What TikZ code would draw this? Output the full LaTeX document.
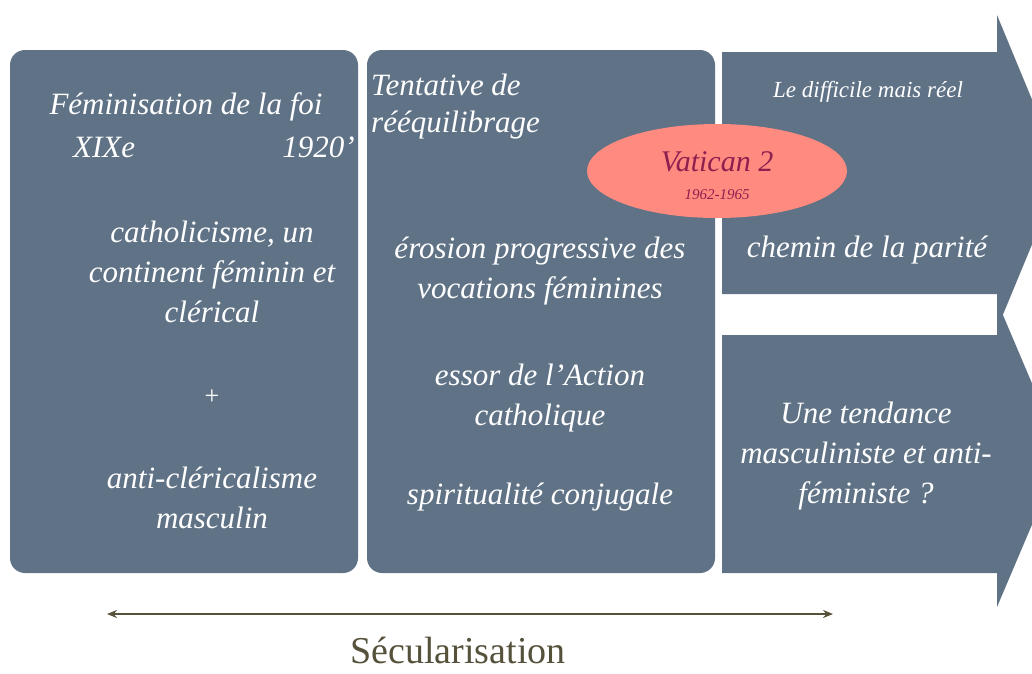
\documentclass[tikz,border=0pt]{standalone}
\usepackage{fontspec}
\setmainfont{Liberation Serif}
\usetikzlibrary{positioning,shapes.geometric,arrows.meta}
\definecolor{slate}{HTML}{607286}
\definecolor{salmon}{HTML}{FF8A80}
\definecolor{wine}{HTML}{8E1F4F}
\definecolor{olive}{HTML}{55513A}

\begin{document}
\begin{tikzpicture}[x=1pt,y=-1pt,
    panel/.style={fill=slate,rounded corners=15pt,minimum width=348pt,minimum height=523pt,inner sep=0pt},
    txt/.style={text=white,font=\fontsize{31}{40}\selectfont\itshape,align=center,inner sep=0pt},
    smalltxt/.style={text=white,font=\fontsize{23}{26}\selectfont\itshape,inner sep=0pt}]
    \useasboundingbox (0,0) rectangle (1032,673);
    \clip (0,0) rectangle (1032,673);
    \node[panel] (left) at (184,311.5) {};
    \node[panel] (mid) at (541,311.5) {};
    % the two arrows on the right
    \fill[slate] (722,52) -- (997,52) -- (997,15) -- (1062,172) -- (997,329) -- (997,294) -- (722,294) -- cycle;
    \fill[slate] (722,335) -- (997,335) -- (997,301) -- (1062,454) -- (997,607) -- (997,573) -- (722,573) -- cycle;
    \node[txt] (fem) at (186,107) {Féminisation de la foi};
    \node[txt,anchor=west] (xix) at (73,147) {XIXe};
    \node[txt,anchor=east] (nineteen) at (355,147) {1920’};
    \node[txt] (cath) at (212,272) {catholicisme, un\\continent féminin et\\clérical};
    \node[text=white,font=\fontsize{26}{28}\selectfont] (plus) at (212,397) {+};
    \node[txt] (anti) at (212,498) {anti-cléricalisme\\masculin};
    \node[txt,align=left,anchor=west,font=\fontsize{31}{37}\selectfont\itshape] (tent) at (371,107) {Tentative de\\rééquilibrage};
    \node[txt] (eros) at (540,271) {érosion progressive des\\vocations féminines};
    \node[txt] (essor) at (540,398) {essor de l’Action\\catholique};
    \node[txt] (spir) at (540,497) {spiritualité conjugale};
    \node[smalltxt] (diff) at (868,92) {Le difficile mais réel};
    \node[txt] (chem) at (867,250) {chemin de la parité};
    \node[txt] (tend) at (866,456) {Une tendance\\masculiniste et anti-\\féministe ?};
    \node[ellipse,fill=salmon,minimum width=260pt,minimum height=94pt,inner sep=0pt] (vat) at (717,171) {};
    \node[text=wine,font=\fontsize{30}{32}\selectfont\itshape,inner sep=0pt] (vattxt) at (717,162) {Vatican 2};
    \node[text=wine,font=\fontsize{15}{17}\selectfont\itshape,inner sep=0pt] (vatyears) at (717,195) {1962-1965};
    % secularisation
    \coordinate (secl) at (107,614);
    \coordinate (secr) at (833,614);
    \draw[olive,line width=2pt,{Stealth[length=10pt,width=8pt]}-{Stealth[length=10pt,width=8pt]}] (secl) -- (secr);
    \node[text=olive,font=\fontsize{38}{40}\selectfont,inner sep=0pt] (secu) at (458,650) {Sécularisation};
\end{tikzpicture}
\end{document}
